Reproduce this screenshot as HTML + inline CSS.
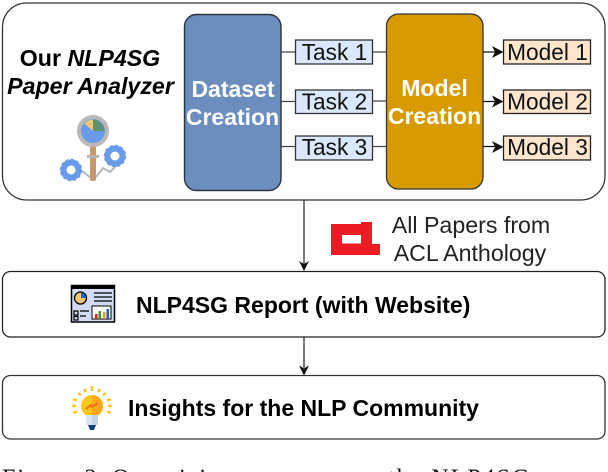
<!DOCTYPE html>
<html><head><meta charset="utf-8"><style>
html,body{margin:0;padding:0;background:#fff}
svg{display:block}
text{font-family:"Liberation Sans",sans-serif}
</style></head><body>
<svg width="608" height="472" viewBox="0 0 608 472" xmlns="http://www.w3.org/2000/svg">
<rect width="608" height="472" fill="#fff"/>
<rect x="2.500" y="3" width="602.500" height="197" rx="24" fill="#fff" stroke="#333" stroke-width="1.300"/>
<rect x="184.500" y="14.500" width="96.500" height="176" rx="12" fill="#6c8ebf" stroke="#2b3440" stroke-width="1.400"/>
<rect x="386.500" y="14" width="96.500" height="175" rx="12" fill="#d79b00" stroke="#333" stroke-width="1.300"/>
<text x="233" y="97" font-size="23" font-weight="700" fill="#fff" text-anchor="middle">Dataset</text>
<text x="232.500" y="125" font-size="23" font-weight="700" fill="#fff" text-anchor="middle">Creation</text>
<text x="434.500" y="96" font-size="23" font-weight="700" fill="#fff" text-anchor="middle">Model</text>
<text x="434.500" y="124" font-size="23" font-weight="700" fill="#fff" text-anchor="middle">Creation</text>
<g stroke="#444" stroke-width="1.300" fill="none">
<path d="M281 52H295M281 101.500H295M281 146.500H295M372 52H386.500M372 101H386.500M372 146.500H386.500"/>
</g>
<g fill="#dae8fc" stroke="#333" stroke-width="1.300">
<rect x="295.500" y="40" width="77" height="24"/>
<rect x="295.500" y="90" width="77" height="23.500"/>
<rect x="295.500" y="136" width="77" height="24"/>
</g>
<g font-size="22.700" fill="#111" text-anchor="middle">
<text x="334.500" y="60">Task 1</text>
<text x="334.500" y="109.500">Task 2</text>
<text x="334.500" y="155">Task 3</text>
</g>
<g stroke="#111" stroke-width="1.300" fill="none">
<path d="M483 52H496M483 101.500H496M483 146.500H496"/>
</g>
<g fill="#111">
<path d="M503.500 52L492 46L495 52L492 58Z"/>
<path d="M503.500 101.500L492 95.500L495 101.500L492 107.500Z"/>
<path d="M503.500 147L492 141L495 147L492 153Z"/>
</g>
<g fill="#ffe6cc" stroke="#222" stroke-width="1.300">
<rect x="503.500" y="40" width="87" height="24"/>
<rect x="503.500" y="90" width="87" height="23.500"/>
<rect x="503.500" y="136" width="87" height="24"/>
</g>
<g font-size="22.700" fill="#111" text-anchor="middle">
<text x="547.500" y="60">Model 1</text>
<text x="547.500" y="109.500">Model 2</text>
<text x="547.500" y="155">Model 3</text>
</g>
<text x="90" y="66" font-size="23.200" font-weight="700" fill="#000" text-anchor="middle">Our <tspan font-style="italic">NLP4SG</tspan></text>
<text x="90.500" y="94" font-size="23.200" font-weight="700" font-style="italic" fill="#000" text-anchor="middle">Paper Analyzer</text>

<!-- analyzer icon -->
<path d="M82 171L90 177M96 177L103 168L110 172L116 166" fill="none" stroke="#b5b5b5" stroke-width="2"/>
<rect x="90" y="146" width="6" height="35" rx="2" fill="#c49a6c"/>
<rect x="87" y="155" width="12" height="3" fill="#b5b5b5"/>
<circle cx="93" cy="131" r="14" fill="#6a9be8" stroke="#b9b9b9" stroke-width="4"/>
<path d="M93 131V119.500A11.500 11.500 0 0 1 104.500 131Z" fill="#5b9272"/>
<path d="M93 131V119.500A11.500 11.500 0 0 0 84.500 123.500Z" fill="#f0c96e"/>
<g fill="none" stroke="#6a9be8">
<circle cx="71" cy="170" r="7.500" stroke-width="6"/>
<circle cx="115" cy="156" r="7.500" stroke-width="6"/>
<circle cx="71" cy="170" r="10" stroke-width="2.500" stroke-dasharray="3 2.200"/>
<circle cx="115" cy="156" r="10" stroke-width="2.500" stroke-dasharray="3 2.200"/>
</g>

<!-- connectors -->
<path d="M304 200V264M304 337V368" stroke="#333" stroke-width="1.300" fill="none"/>
<path d="M304 271L299 261L304 264L309 261Z" fill="#111"/>
<path d="M304 375.500L299 365.500L304 368.500L309 365.500Z" fill="#111"/>

<!-- ACL logo -->
<path d="M331 224H361V222H372V244H380V255H331ZM342 235V243.500H361V235Z" fill="#ed1c24" fill-rule="evenodd"/>
<text x="471" y="233" font-size="23.200" fill="#222" text-anchor="middle">All Papers from</text>
<text x="470" y="261" font-size="23.200" fill="#222" text-anchor="middle">ACL Anthology</text>

<rect x="2.500" y="271.500" width="602.500" height="65.500" rx="8" fill="#fff" stroke="#222" stroke-width="1.300"/>
<rect x="2.500" y="375.500" width="602.500" height="63.500" rx="8" fill="#fff" stroke="#333" stroke-width="1.300"/>
<text x="136" y="313" font-size="23" font-weight="700" fill="#000">NLP4SG Report (with Website)</text>
<text x="128" y="416" font-size="23" font-weight="700" fill="#000">Insights for the NLP Community</text>

<!-- report icon -->
<rect x="71.500" y="285.500" width="43" height="36.500" fill="#cfdcf3" stroke="#000" stroke-width="1.500"/>
<rect x="71" y="285" width="44" height="4" fill="#000"/>
<circle cx="80.500" cy="298" r="6" fill="#f3c46f" stroke="#000" stroke-width="1.300"/>
<path d="M81 298V292.500A5.500 5.500 0 0 1 86 298Z" fill="#1a62c9"/>
<path d="M94 293H112M94 297H112M94 301H112" stroke="#000" stroke-width="1.300"/>
<rect x="92" y="306" width="19" height="13" fill="#fff" stroke="#000" stroke-width="1"/>
<rect x="95" y="314" width="2.500" height="5" fill="#e02020"/>
<rect x="98.500" y="311" width="2.500" height="8" fill="#3a9a2a"/>
<rect x="103" y="312" width="2.500" height="7" fill="#f09a20"/>
<rect x="106.500" y="309" width="2.500" height="10" fill="#1a62c9"/>
<path d="M74 311H78V315H74ZM74 316.500H78V320H74ZM80 311H89M80 316H86" stroke="#000" stroke-width="1.200" fill="none"/>

<!-- bulb icon -->
<circle cx="92" cy="406" r="11" fill="#ffc61b"/>
<path d="M92 395A11 11 0 0 1 92 417Z" fill="#ffa91a"/>
<rect x="86" y="415" width="12" height="10" fill="#dbe6f5"/>
<rect x="92" y="415" width="6" height="10" fill="#c3d3ea"/>
<path d="M88 425H96L94 430H90Z" fill="#0f3f80"/>
<path d="M86 409L91 405L92 407L98 403" stroke="#f0701a" stroke-width="2" fill="none"/>
<g stroke="#ffc61b" stroke-width="2.500" fill="none">
<path d="M92 386V391M84 389L86 392M100 389L98 392M78 393L81 395M106 393L103 395M73 399L77 400.500M111 399L107 400.500M72 406H76M108 406H112M73 413L77 411.500M111 413L107 411.500"/>
</g>

<!-- caption -->
<text x="2" y="485.500" font-size="24" letter-spacing="2" fill="#111" style="font-family:'Liberation Serif',serif">Figure 2:</text>
<text x="112" y="485.500" font-size="24" letter-spacing="1.500" fill="#111" style="font-family:'Liberation Serif',serif">Organizing</text>
<text x="388" y="485.500" font-size="24" letter-spacing="2" fill="#111" style="font-family:'Liberation Serif',serif">the NLP4SG</text>
</svg>
</body></html>
